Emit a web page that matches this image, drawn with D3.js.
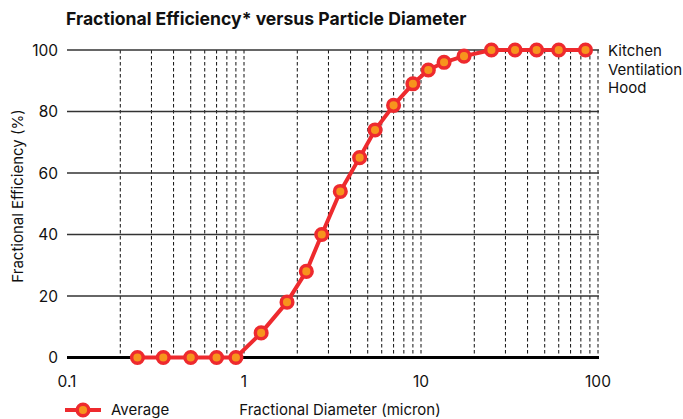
<!DOCTYPE html>
<html><head><meta charset="utf-8">
<script src="https://cdn.jsdelivr.net/npm/d3@7/dist/d3.min.js"></script>
<style>
html,body{margin:0;padding:0;background:#fff;}
text{font-family:Inter, "Noto Sans", sans-serif;fill:#111;}
</style></head>
<body><svg id="c" width="683" height="419"></svg>
<script>
const diameters = [0.25,0.35,0.5,0.7,0.9,1.25,1.75,2.25,2.75,3.5,4.5,5.5,7,9,11,13.5,17.5,25,34,45,60,85];
const efficiency = [0,0,0,0,0,8,18,28,40,54,65,74,82,89,93.5,96,98,100,100,100,100,100];
const yTicks = [0,20,40,60,80,100];
const xTickLabels = [0.1,1,10,100];
const gridX = [0.2,0.3,0.4,0.5,0.6,0.7,0.8,0.9,1,2,3,4,5,6,7,8,9,10,20,30,40,50,60,70,80,90,100];
const seriesName = ["Kitchen","Ventilation","Hood"];

const svg = d3.select("#c");
const x = d3.scaleLog().domain([0.1,100]).range([67,598]);
const y = d3.scaleLinear().domain([0,100]).range([357.5,50]);

svg.append("text").attr("x",66).attr("y",25).attr("font-size",17.6).attr("font-weight",700).text("Fractional Efficiency* versus Particle Diameter");

// vertical dashed grid
svg.append("g").selectAll("line").data(gridX).join("line")
  .attr("x1",d=>x(d)).attr("x2",d=>x(d)).attr("y1",y(100)).attr("y2",y(0))
  .attr("stroke","#111").attr("stroke-width",1).attr("stroke-dasharray","3.5,2.5");

// horizontal grid
svg.append("g").selectAll("line").data(yTicks).join("line")
  .attr("x1",x(0.1)).attr("x2",x(100)+1).attr("y1",d=>y(d)).attr("y2",d=>y(d))
  .attr("stroke",d=>d===0?"#000":"#333").attr("stroke-width",d=>d===0?3:1.5);

// y tick labels
svg.append("g").selectAll("text").data(yTicks).join("text")
  .attr("x",58).attr("y",d=>y(d)+5.5).attr("text-anchor","end").attr("font-size",15.5).text(d=>d);

// x tick labels
svg.append("g").selectAll("text").data(xTickLabels).join("text")
  .attr("x",d=>x(d)).attr("y",387).attr("text-anchor","middle").attr("font-size",15.5).text(d=>d);

// axis titles
svg.append("text").attr("transform","translate(23,196) rotate(-90)").attr("text-anchor","middle").attr("font-size",15).text("Fractional Efficiency (%)");
svg.append("text").attr("x",340).attr("y",415).attr("text-anchor","middle").attr("font-size",15).text("Fractional Diameter (micron)");

// series
const red="#ee2a2e", orange="#f7941d";
const line = d3.line().x((d,i)=>x(diameters[i])).y(d=>y(d));
svg.append("path").datum(efficiency).attr("d",line).attr("fill","none").attr("stroke",red).attr("stroke-width",4).attr("stroke-linejoin","round");
svg.append("g").selectAll("circle").data(efficiency).join("circle")
  .attr("cx",(d,i)=>x(diameters[i])).attr("cy",d=>y(d)).attr("r",5.8)
  .attr("fill",orange).attr("stroke",red).attr("stroke-width",3.5);

// series label
svg.append("g").selectAll("text").data(seriesName).join("text")
  .attr("x",608).attr("y",(d,i)=>56+i*18.5).attr("font-size",15).text(d=>d);

// legend
svg.append("line").attr("x1",65).attr("x2",101).attr("y1",410).attr("y2",410).attr("stroke",red).attr("stroke-width",4);
svg.append("circle").attr("cx",83).attr("cy",410).attr("r",5.8).attr("fill",orange).attr("stroke",red).attr("stroke-width",3.5);
svg.append("text").attr("x",111).attr("y",415).attr("font-size",15).text("Average");
</script></body></html>
